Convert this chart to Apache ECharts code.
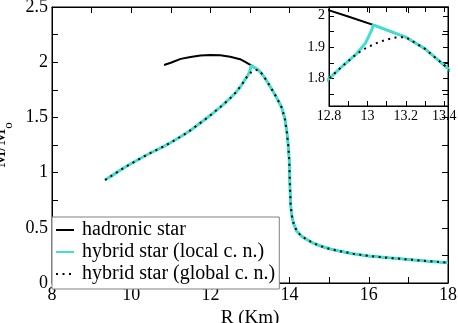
<!DOCTYPE html>
<html>
<head>
<meta charset="utf-8">
<script src="https://cdn.jsdelivr.net/npm/echarts@6/dist/echarts.min.js"></script>
<style>html,body{margin:0;padding:0;background:#fff}#c{width:458px;height:323px}</style>
</head>
<body>
<div id="c"></div>
<script>
// hadronic star branch (upper part, before joining)
const hadronicR = [10.83, 11.0, 11.25, 11.5, 11.75, 12.0, 12.25, 12.5, 12.75, 12.9];
const hadronicM = [1.975, 1.995, 2.03, 2.048, 2.06, 2.066, 2.063, 2.05, 2.027, 1.998];
// hybrid branch shared by local and global constructions
const hybridR = [9.34, 9.6, 9.8, 10.0, 10.31, 10.5, 10.81, 11.0, 11.32, 11.5, 11.82, 12.0, 12.33, 12.5, 12.66, 12.8, 12.87, 12.94];
const hybridM = [0.933, 0.993, 1.04, 1.082, 1.144, 1.18, 1.235, 1.273, 1.341, 1.384, 1.47, 1.519, 1.618, 1.674, 1.733, 1.80, 1.84, 1.877];
// local charge neutrality: rises steeply to the junction
const localTopR = [12.99, 13.015, 13.027];
const localTopM = [1.913, 1.945, 1.962];
// global charge neutrality: smooth bridge
const globalTopR = [12.985, 13.025, 13.063, 13.106, 13.149];
const globalTopM = [1.895, 1.907, 1.917, 1.925, 1.931];
// common branch from the junction to large radii
const descR = [13.03, 13.1, 13.2, 13.3, 13.4, 13.5, 13.6, 13.7, 13.8, 13.88, 13.93, 13.965, 13.99, 14.0, 14.01, 14.025, 14.05, 14.1, 14.18, 14.3, 14.43, 14.6, 14.8, 15.0, 15.25, 15.6, 16.0, 16.5, 17.0, 17.5, 18.0];
const descM = [1.971, 1.955, 1.932, 1.895, 1.843, 1.785, 1.725, 1.66, 1.59, 1.49, 1.37, 1.25, 1.12, 1.0, 0.86, 0.72, 0.62, 0.54, 0.47, 0.425, 0.395, 0.36, 0.333, 0.31, 0.29, 0.265, 0.245, 0.228, 0.213, 0.198, 0.184];
const seriesNames = ['hadronic star', 'hybrid star (local c. n.)', 'hybrid star (global c. n.)'];
const mainXLabels = [8, 10, 12, 14, 16, 18];
const mainYLabels = [0, 0.5, 1, 1.5, 2, 2.5];
const insetXLabels = [12.8, 13, 13.2, 13.4];
const insetYLabels = [1.8, 1.9, 2.0];

function pairs(R, M) { return R.map((r, i) => [r, M[i]]); }
const hadronicData = pairs(hadronicR, hadronicM).concat(pairs(descR, descM));
const localData = pairs(hybridR, hybridM).concat(pairs(localTopR, localTopM), pairs(descR, descM));
const globalData = pairs(hybridR, hybridM).concat(pairs(globalTopR, globalTopM), pairs(descR, descM).filter(p => p[0] >= 13.2));

const FONT = 'Liberation Serif';
const CYAN = '#40e0d0';
const mkLine = () => ({ show: true, onZero: false, lineStyle: { color: '#000', width: 1 } });
const mkTick = (len) => ({ show: true, inside: true, length: len, lineStyle: { color: '#000', width: 1 } });
const pick = (list) => (v => list.some(t => Math.abs(v - t) < 1e-6) ? String(Math.round(v * 10) / 10) : '');

function axis(gi, pos, min, max, extra, labels, list, fontSize, tickLen, margin) {
  return Object.assign({
    type: 'value', gridIndex: gi, position: pos, min, max,
    axisLine: mkLine(), axisTick: mkTick(tickLen), splitLine: { show: false },
    axisLabel: { show: labels, color: '#000', fontFamily: FONT, fontSize, margin, formatter: pick(list) }
  }, extra);
}

const chart = echarts.init(document.getElementById('c'));
const mk = (name, data, xi, yi, style) => ({
  name, type: 'line', data, xAxisIndex: xi, yAxisIndex: yi, showSymbol: false, symbol: 'none',
  lineStyle: style, itemStyle: { color: style.color }
});
const hadStyle = { color: '#000', width: 2 };
const locStyle = { color: CYAN, width: 3 };
const gloStyle = { color: '#000', width: 2, type: [2, 4.5] };

const xName = { name: 'R (Km)', nameLocation: 'middle', nameGap: 20, nameTextStyle: { color: '#000', fontFamily: FONT, fontSize: 19 } };
const yName = {
  name: '{a|M/M}{b|o}', nameLocation: 'middle', nameGap: 30,
  nameTextStyle: { color: '#000', fontFamily: FONT, fontSize: 19,
    rich: { a: { fontFamily: FONT, fontSize: 19, color: '#000' },
            b: { fontFamily: FONT, fontSize: 13, color: '#000', padding: [16, 0, 0, 0] } } }
};
const mainXExtra = { splitNumber: 10, minInterval: 1, maxInterval: 1 };
const mainYExtra = { splitNumber: 10, minInterval: 0.25, maxInterval: 0.25 };
const insetXExtra = { splitNumber: 6, minInterval: 0.1, maxInterval: 0.1 };
const insetYExtra = { splitNumber: 6 };

chart.setOption({
  animation: false,
  backgroundColor: '#fff',
  grid: [
    { left: 52, right: 10, top: 7, bottom: 40, containLabel: false, outerBoundsMode: 'none',
      show: true, borderColor: '#000', borderWidth: 1, backgroundColor: 'transparent' },
    { left: 329, right: 10, top: 7, bottom: 217, containLabel: false, outerBoundsMode: 'none',
      show: true, borderColor: '#000', borderWidth: 1, backgroundColor: '#fff' }
  ],
  xAxis: [
    axis(0, 'bottom', 8, 18, Object.assign({}, mainXExtra, xName), true, mainXLabels, 18, 6, 3),
    axis(0, 'top', 8, 18, mainXExtra, false, mainXLabels, 18, 6, 3),
    axis(1, 'bottom', 12.8, 13.42, insetXExtra, true, insetXLabels, 14, 5, 3),
    axis(1, 'top', 12.8, 13.42, insetXExtra, false, insetXLabels, 14, 5, 3)
  ],
  yAxis: [
    axis(0, 'left', 0, 2.5, Object.assign({}, mainYExtra, yName), true, mainYLabels, 18, 6, 4),
    axis(0, 'right', 0, 2.5, mainYExtra, false, mainYLabels, 18, 6, 4),
    axis(1, 'left', 1.713, 2.028, insetYExtra, true, insetYLabels, 14, 5, 4),
    axis(1, 'right', 1.713, 2.028, insetYExtra, false, insetYLabels, 14, 5, 4)
  ],
  legend: {
    left: 52, top: 217, orient: 'vertical', selectedMode: false,
    itemWidth: 18, itemHeight: 14, itemGap: 2, padding: [3, 4, 5, 3],
    backgroundColor: '#fff', borderColor: '#808080', borderWidth: 1, borderRadius: 0,
    itemStyle: { opacity: 0 },
    lineStyle: { width: 2 },
    textStyle: { fontFamily: FONT, fontSize: 20, lineHeight: 18, color: '#000', padding: [0, 0, 0, 3] },
    data: seriesNames
  },
  series: [
    mk(seriesNames[0], hadronicData, 0, 0, hadStyle),
    mk(seriesNames[1], localData, 0, 0, locStyle),
    mk(seriesNames[2], globalData, 0, 0, gloStyle),
    mk(seriesNames[0], hadronicData, 2, 2, hadStyle),
    mk(seriesNames[1], localData, 2, 2, locStyle),
    mk(seriesNames[2], globalData, 2, 2, gloStyle)
  ]
});
</script>
</body>
</html>
